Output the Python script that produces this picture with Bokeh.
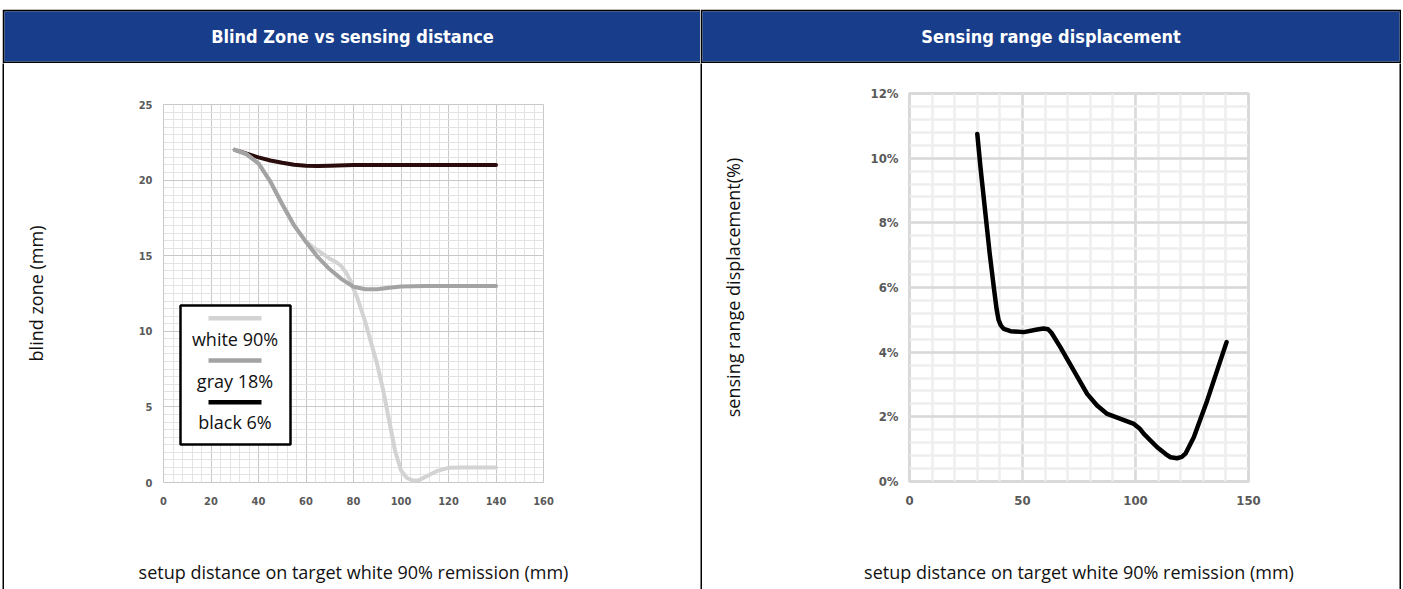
import numpy as np
from bokeh.plotting import figure
from bokeh.layouts import row, column
from bokeh.models import Range1d, FixedTicker, BoxAnnotation, Label, PrintfTickFormatter
from bokeh.core.properties import value
from bokeh.embed import file_html
from bokeh.resources import INLINE

# ---------------- data ----------------
TITLES = ["Blind Zone vs sensing distance", "Sensing range displacement"]
X_LABEL = "setup distance on target white 90% remission (mm)"
Y_LABEL_LEFT = "blind zone (mm)"
Y_LABEL_RIGHT = "sensing range displacement(%)"
SERIES_NAMES = ["white 90%", "gray 18%", "black 6%"]

white_x = [30, 35, 40, 45, 50, 55, 60, 63, 65, 70, 72.5, 75, 77, 78.7, 80, 81.5, 82.9,
           85, 87.5, 90, 92.5, 95, 97.5, 100, 102.5, 105, 107.5, 110, 115, 120, 125, 130, 140]
white_y = [22.0, 21.7, 21.1, 19.9, 18.4, 17.0, 15.95, 15.55, 15.35, 14.8, 14.6, 14.3,
           13.85, 13.36, 12.8, 12.26, 11.6, 10.6, 9.2, 7.8, 6.1, 4.1, 2.1, 0.8, 0.3, 0.12,
           0.15, 0.35, 0.75, 0.97, 1.0, 1.0, 1.0]

gray_x = [30, 35, 40, 45, 50, 55, 60, 65, 70, 75, 80, 85, 90, 95, 100, 110, 120, 130, 140]
gray_y = [22.0, 21.7, 21.1, 19.9, 18.4, 17.0, 15.9, 14.9, 14.1, 13.45, 12.95, 12.78,
          12.78, 12.88, 12.97, 13.0, 13.0, 13.0, 13.0]

black_x = [30, 35, 40, 45, 50, 55, 60, 65, 70, 80, 90, 100, 110, 120, 130, 140]
black_y = [22.0, 21.75, 21.5, 21.3, 21.15, 21.02, 20.95, 20.93, 20.95, 21.0, 21.0,
           21.0, 21.0, 21.0, 21.0, 21.0]

disp_x = [30, 31.4, 33.6, 35.5, 37.3, 38.5, 39.4, 40.4, 41.7, 44.7, 50.6, 56.5, 59.4,
          61.3, 62.8, 66.8, 72.7, 78.6, 83.0, 87.5, 93.4, 99.3, 101.8, 103.7, 109.6,
          113.5, 115.5, 118.4, 120.5, 122.1, 125.8, 131.7, 136.1, 140.3]
disp_y = [10.75, 9.72, 8.28, 7.04, 6.01, 5.35, 5.0, 4.83, 4.72, 4.65, 4.62, 4.70, 4.73,
          4.71, 4.6, 4.15, 3.43, 2.71, 2.35, 2.09, 1.94, 1.78, 1.64, 1.47, 1.06, 0.84,
          0.75, 0.72, 0.76, 0.86, 1.37, 2.5, 3.43, 4.31]

left_x_ticks = [0, 20, 40, 60, 80, 100, 120, 140, 160]
left_y_ticks = [0, 5, 10, 15, 20, 25]
right_x_ticks = [0, 50, 100, 150]
right_y_ticks = [0, 2, 4, 6, 8, 10, 12]

# ---------------- styles ----------------
BLUE = "#173d8b"
TICK_COLOR = "#595959"
LINE_COLORS = ["#d3d3d3", "#a3a3a3", "#2a0c0c"]
LEGEND_COLORS = ["#d3d3d3", "#a3a3a3", "#000000"]
TEXT_FONT = "Open Sans"
TICK_FONT = "DejaVu Sans Condensed"
CHART_H = 526
HEADER_H = 54


def blank(width, height, color="white"):
    b = figure(width=width, height=height, x_axis_type=None, y_axis_type=None,
               toolbar_location=None, output_backend="svg", min_border=0,
               background_fill_color=color, border_fill_color=color,
               outline_line_color=None)
    return b


def header(title, width, border_left, border_right):
    h = figure(width=width, height=HEADER_H, x_range=Range1d(0, 1), y_range=Range1d(0, 1),
               x_axis_type=None, y_axis_type=None, toolbar_location=None,
               output_backend="svg", min_border_left=border_left,
               min_border_right=border_right, min_border_top=2, min_border_bottom=2,
               background_fill_color=BLUE, border_fill_color="black",
               outline_line_color=None)
    h.text(x=[0.5], y=[0.5], text=[title], text_font=value(TICK_FONT),
           text_font_style="bold", text_font_size="18px", text_color="white",
           text_align="center", text_baseline="middle")
    return h


def style_axes(p, tick_size, label_standoff_x, label_standoff_y):
    for ax in (p.xaxis[0], p.yaxis[0]):
        ax.axis_line_color = None
        ax.major_tick_line_color = None
        ax.minor_tick_line_color = None
        ax.major_label_text_font = TICK_FONT
        ax.major_label_text_font_style = "bold"
        ax.major_label_text_font_size = tick_size
        ax.major_label_text_color = TICK_COLOR
        ax.axis_label_text_font = TEXT_FONT
        ax.axis_label_text_font_style = "normal"
        ax.axis_label_text_font_size = "18px"
        ax.axis_label_text_color = "#111111"
    p.xaxis[0].major_label_standoff = 8
    p.yaxis[0].major_label_standoff = 5
    p.xaxis[0].axis_label_standoff = label_standoff_x
    p.yaxis[0].axis_label_standoff = label_standoff_y


# ---------------- left chart ----------------
c1 = figure(width=696, height=CHART_H, x_range=Range1d(0, 160), y_range=Range1d(0, 25),
            toolbar_location=None, output_backend="svg",
            min_border_left=159, min_border_right=157, min_border_top=41,
            min_border_bottom=107, outline_line_color="#c8c8c8",
            x_axis_label=X_LABEL, y_axis_label=Y_LABEL_LEFT)
c1.xaxis.ticker = FixedTicker(ticks=left_x_ticks, minor_ticks=list(np.arange(0, 161, 4)))
c1.yaxis.ticker = FixedTicker(ticks=left_y_ticks, minor_ticks=list(np.arange(0, 25.01, 0.5)))
c1.xgrid.ticker = c1.xaxis[0].ticker
c1.ygrid.ticker = c1.yaxis[0].ticker
for g in (c1.xgrid[0], c1.ygrid[0]):
    g.grid_line_color = "#c8c8c8"
    g.minor_grid_line_color = "#e3e3e3"
    g.grid_line_width = 1
    g.minor_grid_line_width = 1
style_axes(c1, "11px", 52, 88)

c1.line(black_x, black_y, line_color=LINE_COLORS[2], line_width=4, line_join="round",
        line_cap="round")
c1.line(white_x, white_y, line_color=LINE_COLORS[0], line_width=4, line_join="round",
        line_cap="round")
c1.line(gray_x, gray_y, line_color=LINE_COLORS[1], line_width=4, line_join="round",
        line_cap="round")

# custom legend (screen units, relative to frame bottom-left)
c1.add_layout(BoxAnnotation(left=17, right=127, top=177, bottom=38,
                            left_units="screen", right_units="screen",
                            top_units="screen", bottom_units="screen",
                            fill_color="white", fill_alpha=1.0,
                            line_color="black", line_width=2.5, line_alpha=1.0))
sample_y = [164.3, 122.0, 80.3]
label_y = [144.0, 101.7, 60.7]
for name, col, sy, ly in zip(SERIES_NAMES, LEGEND_COLORS, sample_y, label_y):
    c1.add_layout(BoxAnnotation(left=45, right=98, top=sy + 2.2, bottom=sy - 2.2,
                                left_units="screen", right_units="screen",
                                top_units="screen", bottom_units="screen",
                                fill_color=col, fill_alpha=1.0, line_color=None))
    c1.add_layout(Label(x=71.5, y=ly, x_units="screen", y_units="screen", text=name,
                        text_align="center", text_baseline="alphabetic",
                        text_font=TEXT_FONT, text_font_size="18px",
                        text_color="#111111"))

# ---------------- right chart ----------------
c2 = figure(width=697, height=CHART_H, x_range=Range1d(0, 150), y_range=Range1d(0, 12),
            toolbar_location=None, output_backend="svg",
            min_border_left=207, min_border_right=151, min_border_top=30,
            min_border_bottom=108, outline_line_color="#d9d9d9", outline_line_width=3,
            x_axis_label=X_LABEL, y_axis_label=Y_LABEL_RIGHT)
c2.xaxis.ticker = FixedTicker(ticks=right_x_ticks, minor_ticks=list(np.arange(0, 151, 10)))
c2.yaxis.ticker = FixedTicker(ticks=right_y_ticks, minor_ticks=list(np.arange(0, 12.01, 0.4)))
c2.xgrid.ticker = c2.xaxis[0].ticker
c2.ygrid.ticker = c2.yaxis[0].ticker
c2.yaxis.formatter = PrintfTickFormatter(format="%d%%")
for g in (c2.xgrid[0], c2.ygrid[0]):
    g.grid_line_color = "#d9d9d9"
    g.minor_grid_line_color = "#eeeeee"
    g.grid_line_width = 2.5
    g.minor_grid_line_width = 2.5
style_axes(c2, "13px", 52, 123)

c2.line(disp_x, disp_y, line_color="black", line_width=4.5, line_join="round",
        line_cap="round")

# ---------------- layout ----------------
top_rule = column(blank(1403, 7), blank(1403, 1, "#9a9a9a"), blank(1403, 1), spacing=0)
h1 = header(TITLES[0], 698, 2, 0)
h2 = header(TITLES[1], 701, 2, 2)
header_row = row(blank(2, HEADER_H), h1, h2, blank(2, HEADER_H), spacing=0)
chart_row = row(blank(2, CHART_H), blank(2, CHART_H, "black"), column(c1, spacing=0),
                blank(2, CHART_H, "black"), column(c2, spacing=0),
                blank(2, CHART_H, "black"), blank(2, CHART_H), spacing=0)
layout = column(top_rule, header_row, chart_row, spacing=0)

open("out.html", "w").write(file_html(layout, INLINE))
